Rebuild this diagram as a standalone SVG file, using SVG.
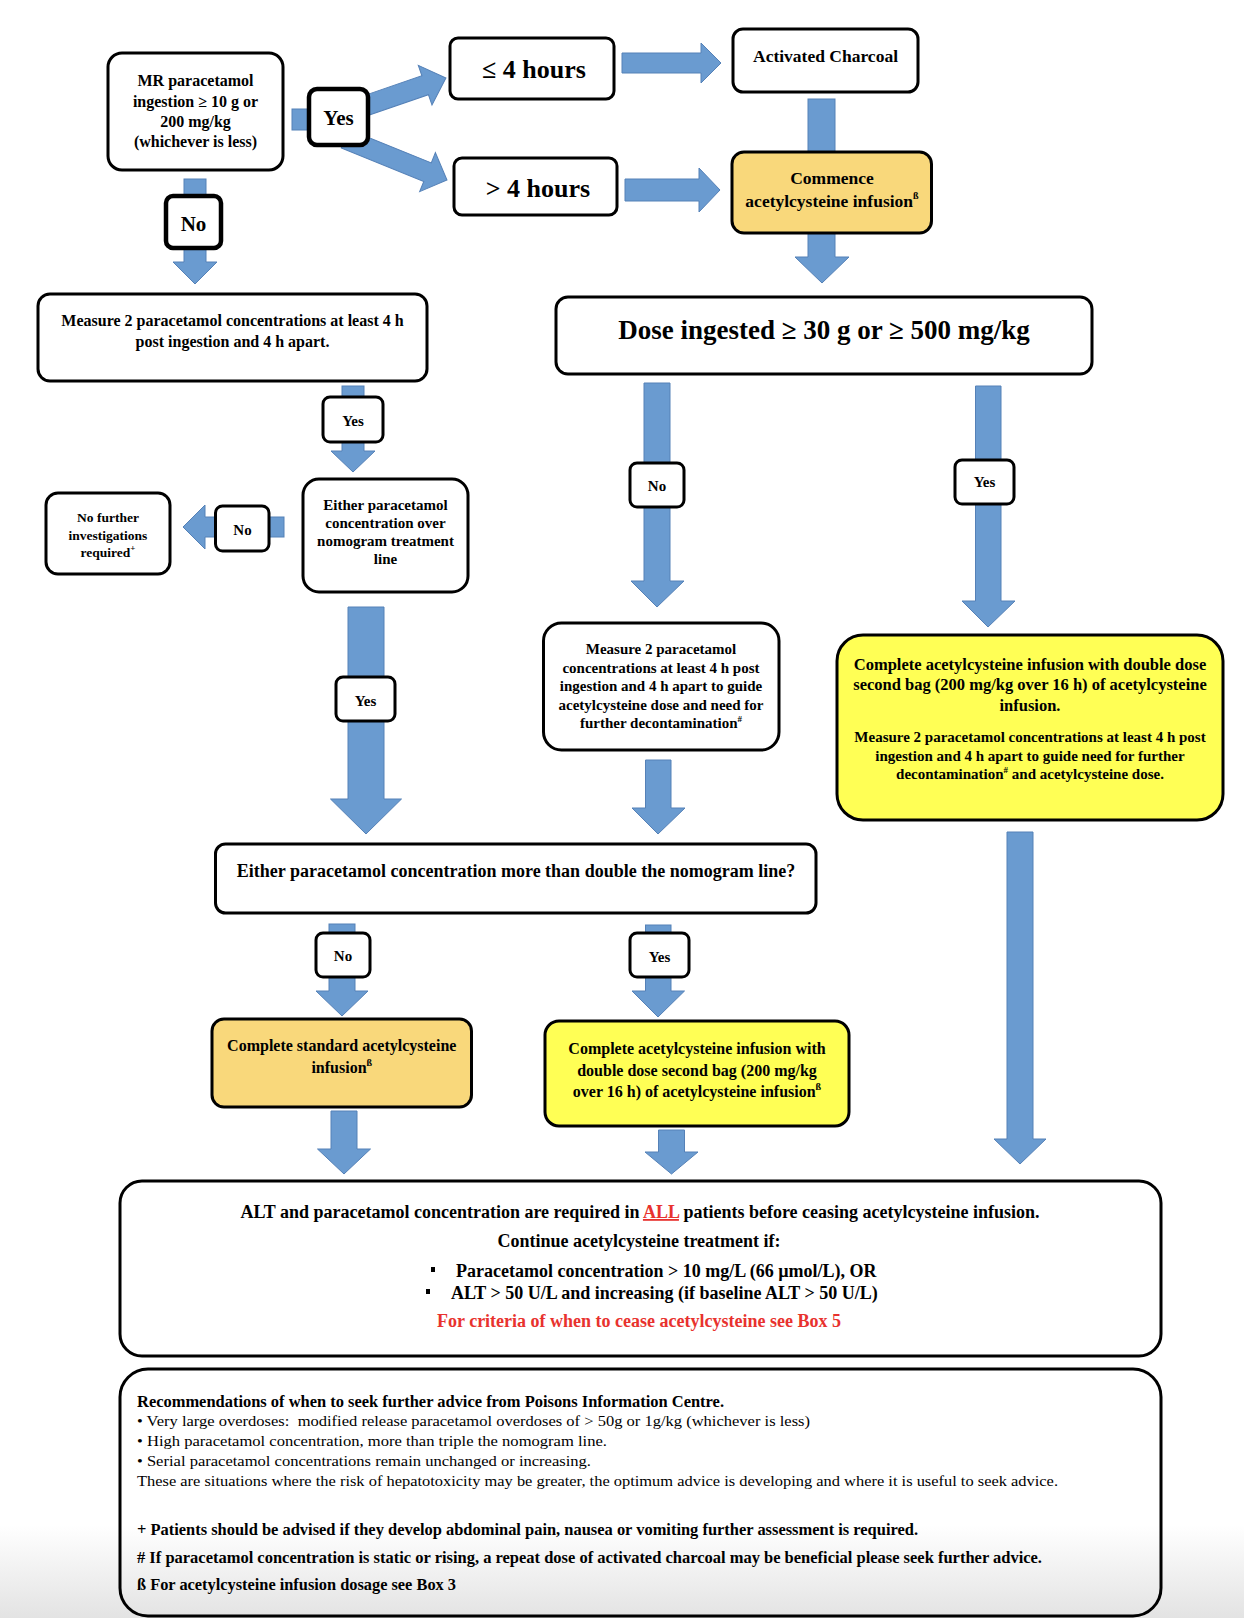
<svg xmlns="http://www.w3.org/2000/svg" width="1244" height="1618" viewBox="0 0 1244 1618">
<defs>
<linearGradient id="fade" x1="0" y1="0" x2="0" y2="1">
<stop offset="0" stop-color="#ffffff"/>
<stop offset="1" stop-color="#e3e3e3"/>
</linearGradient>
<style>
.box{fill:#ffffff;stroke:#000000;stroke-width:3}
.thick{stroke-width:4.5}
.orange{fill:#F9D87B}
.yellow{fill:#FFFF55}
.arr{fill:#6A9BD0;stroke:#5581B7;stroke-width:1}
text{font-family:"Liberation Serif","Times New Roman",serif;font-weight:bold;fill:#000000}
.c{text-anchor:middle}
.f13{font-size:13.5px}
.f15{font-size:15px}
.f16{font-size:16px}
.f165{font-size:16.5px}
.f175{font-size:17.5px}
.f18{font-size:18px}
.f21{font-size:21px}
.f26{font-size:26px}
.reg{font-weight:normal}
.red{fill:#E8322E}
</style>
</defs>
<rect x="0" y="0" width="1244" height="1618" fill="#ffffff"/>
<rect x="0" y="1525" width="1244" height="93" fill="url(#fade)"/>

<g id="connectors">
<rect class="arr" x="292" y="109" width="19" height="21"/>
<polygon class="arr" transform="translate(351.4,110.6) rotate(-19)" points="0,-10 78,-10 78,-21 100,0 78,21 78,10 0,10"/>
<polygon class="arr" transform="translate(345,138.8) rotate(22)" points="0,-10 89,-10 89,-21 110,0 89,21 89,10 0,10"/>
<polygon class="arr" points="622,53 701,53 701,43 721,63 701,83 701,73 622,73"/>
<polygon class="arr" points="625,179 699,179 699,168 720,190 699,212 699,201 625,201"/>
<rect class="arr" x="808" y="99" width="27" height="56"/>
<polygon class="arr" points="808,230 835,230 835,257 849,257 822,283 795,257 808,257"/>
<rect class="arr" x="184" y="179" width="22" height="20"/>
<polygon class="arr" points="184,245 206,245 206,262 217,262 195,284 173,262 184,262"/>
<rect class="arr" x="342" y="386" width="22" height="14"/>
<polygon class="arr" points="342,440 364,440 364,451 375,451 353,472 331,451 342,451"/>
<rect class="arr" x="266" y="517" width="18" height="20"/>
<polygon class="arr" points="218,517 205,517 205,505 183,527 205,549 205,537 218,537"/>
<polygon class="arr" points="348,607 384,607 384,799 401.5,799 366,834 330.5,799 348,799"/>
<polygon class="arr" points="644,383 670,383 670,581 684,581 657,607 631,581 644,581"/>
<polygon class="arr" points="975.5,386 1001,386 1001,601 1015,601 988,627 962,601 975.5,601"/>
<polygon class="arr" points="645.5,760 671,760 671,808 685,808 658,834 632,808 645.5,808"/>
<polygon class="arr" points="1007,832 1033,832 1033,1139 1046,1139 1020,1164 994,1139 1007,1139"/>
<rect class="arr" x="329" y="924" width="26" height="12"/>
<polygon class="arr" points="329,975 355,975 355,991 368,991 342,1016 316,991 329,991"/>
<rect class="arr" x="645.5" y="925" width="25.5" height="11"/>
<polygon class="arr" points="645.5,975 671,975 671,991 684.5,991 658,1017 632,991 645.5,991"/>
<polygon class="arr" points="331,1111 357,1111 357,1149 370.5,1149 344,1174 317.5,1149 331,1149"/>
<polygon class="arr" points="658.5,1130 684.5,1130 684.5,1152 698,1152 671.5,1174 645,1152 658.5,1152"/>
</g>

<g id="n-mr">
<rect class="box" x="108" y="53" width="175" height="117" rx="14"/>
<text class="c f16" x="195.5" y="86">MR paracetamol</text>
<text class="c f16" x="195.5" y="106.5">ingestion ≥ 10 g or</text>
<text class="c f16" x="195.5" y="126.5">200 mg/kg</text>
<text class="c f16" x="195.5" y="146.5">(whichever is less)</text>
</g>
<g id="n-yes-top">
<rect class="box thick" x="309" y="89" width="59" height="56" rx="8"/>
<text class="c f21" x="338.5" y="125">Yes</text>
</g>
<g id="n-le4">
<rect class="box" x="450" y="38" width="164" height="61" rx="8"/>
<text class="c f26" x="534" y="78">≤ 4 hours</text>
</g>
<g id="n-gt4">
<rect class="box" x="454" y="158" width="163" height="57" rx="8"/>
<text class="c f26" x="538" y="197">&gt; 4 hours</text>
</g>
<g id="n-charcoal">
<rect class="box" x="733" y="29" width="185" height="63" rx="10"/>
<text class="c f175" x="825.5" y="62">Activated Charcoal</text>
</g>
<g id="n-commence">
<rect class="box orange" x="732" y="152" width="199.5" height="81" rx="12"/>
<text class="c f175" x="832" y="184">Commence</text>
<text class="c f175" x="832" y="207">acetylcysteine infusion<tspan font-size="10" dy="-8">ß</tspan></text>
</g>
<g id="n-no-top">
<rect class="box thick" x="166" y="196" width="55" height="52" rx="7"/>
<text class="c f21" x="193.5" y="231">No</text>
</g>
<g id="n-measure">
<rect class="box" x="38" y="294" width="389" height="87" rx="12"/>
<text class="c f16" x="232.5" y="326">Measure 2 paracetamol concentrations at least 4 h</text>
<text class="c f16" x="232.5" y="347">post ingestion and 4 h apart.</text>
</g>
<g id="n-dose">
<rect class="box" x="556" y="297" width="536" height="77" rx="12"/>
<text class="c" x="824" y="339" font-size="27px">Dose ingested ≥ 30 g or ≥ 500 mg/kg</text>
</g>
<g id="n-yes-1">
<rect class="box" x="323" y="397" width="60" height="45" rx="7"/>
<text class="c f15" x="353" y="426">Yes</text>
</g>
<g id="n-either">
<rect class="box" x="303" y="479" width="165" height="113" rx="16"/>
<text class="c f15" x="385.5" y="510">Either paracetamol</text>
<text class="c f15" x="385.5" y="528">concentration over</text>
<text class="c f15" x="385.5" y="546">nomogram treatment</text>
<text class="c f15" x="385.5" y="564">line</text>
</g>
<g id="n-no-1">
<rect class="box" x="215.5" y="506" width="53.5" height="45" rx="7"/>
<text class="c f15" x="242.5" y="535">No</text>
</g>
<g id="n-nofurther">
<rect class="box" x="46" y="493" width="124" height="81" rx="12"/>
<text class="c f13" x="108" y="522">No further</text>
<text class="c f13" x="108" y="539.5">investigations</text>
<text class="c f13" x="108" y="557">required<tspan font-size="9" dy="-6">+</tspan></text>
</g>
<g id="n-no-2">
<rect class="box" x="630" y="463" width="54" height="44" rx="7"/>
<text class="c f15" x="657" y="491">No</text>
</g>
<g id="n-yes-2">
<rect class="box" x="955" y="460" width="59" height="44" rx="7"/>
<text class="c f15" x="984.5" y="487">Yes</text>
</g>
<g id="n-measure2">
<rect class="box" x="543.5" y="623" width="235.5" height="127" rx="18"/>
<text class="c f15" x="661" y="654">Measure 2 paracetamol</text>
<text class="c f15" x="661" y="672.5">concentrations at least 4 h post</text>
<text class="c f15" x="661" y="691">ingestion and 4 h apart to guide</text>
<text class="c f15" x="661" y="709.5">acetylcysteine dose and need for</text>
<text class="c f15" x="661" y="728">further decontamination<tspan font-size="9" dy="-6">#</tspan></text>
</g>
<g id="n-double1">
<rect class="box yellow" x="837" y="635" width="386" height="185" rx="26"/>
<text class="c f165" x="1030" y="670">Complete acetylcysteine infusion with double dose</text>
<text class="c f165" x="1030" y="690">second bag (200 mg/kg over 16 h) of acetylcysteine</text>
<text class="c f165" x="1030" y="711">infusion.</text>
<text class="c f15" x="1030" y="742">Measure 2 paracetamol concentrations at least 4 h post</text>
<text class="c f15" x="1030" y="760.5">ingestion and 4 h apart to guide need for further</text>
<text class="c f15" x="1030" y="779">decontamination<tspan font-size="9" dy="-6">#</tspan><tspan dy="6"> and acetylcysteine dose.</tspan></text>
</g>
<g id="n-yes-3">
<rect class="box" x="336" y="677" width="59" height="44" rx="7"/>
<text class="c f15" x="365.5" y="706">Yes</text>
</g>
<g id="n-double-q">
<rect class="box" x="215.5" y="844" width="600.5" height="69" rx="10"/>
<text class="c f18" x="516" y="877">Either paracetamol concentration more than double the nomogram line?</text>
</g>
<g id="n-no-3">
<rect class="box" x="316" y="933" width="54" height="44" rx="7"/>
<text class="c f15" x="343" y="961">No</text>
</g>
<g id="n-yes-4">
<rect class="box" x="630" y="933" width="59" height="44" rx="7"/>
<text class="c f15" x="659.5" y="961.5">Yes</text>
</g>
<g id="n-standard">
<rect class="box orange" x="212" y="1019" width="259.5" height="88" rx="12"/>
<text class="c f16" x="341.75" y="1050.5">Complete standard acetylcysteine</text>
<text class="c f16" x="341.75" y="1072.5">infusion<tspan font-size="10" dy="-7">ß</tspan></text>
</g>
<g id="n-double2">
<rect class="box yellow" x="545" y="1021" width="304" height="105" rx="14"/>
<text class="c f16" x="697" y="1054">Complete acetylcysteine infusion with</text>
<text class="c f16" x="697" y="1076">double dose second bag (200 mg/kg</text>
<text class="c f16" x="697" y="1097">over 16 h) of acetylcysteine infusion<tspan font-size="10" dy="-7">ß</tspan></text>
</g>
<g id="n-alt">
<rect class="box" x="120" y="1181" width="1041" height="175" rx="22" stroke-width="4"/>
<text class="c f18" x="640" y="1218">ALT and paracetamol concentration are required in <tspan class="red" text-decoration="underline">ALL</tspan> patients before ceasing acetylcysteine infusion.</text>
<text class="c f18" x="639" y="1247">Continue acetylcysteine treatment if:</text>
<rect x="431" y="1267" width="4" height="5" fill="#000000"/>
<text class="f18" x="456" y="1277">Paracetamol concentration &gt; 10 mg/L (66 µmol/L), OR</text>
<rect x="426" y="1289" width="4" height="5" fill="#000000"/>
<text class="f18" x="451" y="1299">ALT &gt; 50 U/L and increasing (if baseline ALT &gt; 50 U/L)</text>
<text class="c f18 red" x="639" y="1327">For criteria of when to cease acetylcysteine see Box 5</text>
</g>
<g id="n-notes">
<rect x="120" y="1369" width="1041" height="247" rx="28" fill="none" stroke="#000000" stroke-width="3"/>
<text class="f16" x="137" y="1407" textLength="587" lengthAdjust="spacingAndGlyphs">Recommendations of when to seek further advice from Poisons Information Centre.</text>
<text class="f15 reg" x="137" y="1426" textLength="673" lengthAdjust="spacingAndGlyphs">• Very large overdoses: &#160;modified release paracetamol overdoses of &gt; 50g or 1g/kg (whichever is less)</text>
<text class="f15 reg" x="137" y="1446" textLength="470" lengthAdjust="spacingAndGlyphs">• High paracetamol concentration, more than triple the nomogram line.</text>
<text class="f15 reg" x="137" y="1466" textLength="454" lengthAdjust="spacingAndGlyphs">• Serial paracetamol concentrations remain unchanged or increasing.</text>
<text class="f15 reg" x="137" y="1486" textLength="921" lengthAdjust="spacingAndGlyphs">These are situations where the risk of hepatotoxicity may be greater, the optimum advice is developing and where it is useful to seek advice.</text>
<text class="f16" x="137" y="1535" textLength="781" lengthAdjust="spacingAndGlyphs">+ Patients should be advised if they develop abdominal pain, nausea or vomiting further assessment is required.</text>
<text class="f16" x="137" y="1563" textLength="905" lengthAdjust="spacingAndGlyphs"># If paracetamol concentration is static or rising, a repeat dose of activated charcoal may be beneficial please seek further advice.</text>
<text class="f16" x="137" y="1590" textLength="319" lengthAdjust="spacingAndGlyphs">ß For acetylcysteine infusion dosage see Box 3</text>
</g>
</svg>
